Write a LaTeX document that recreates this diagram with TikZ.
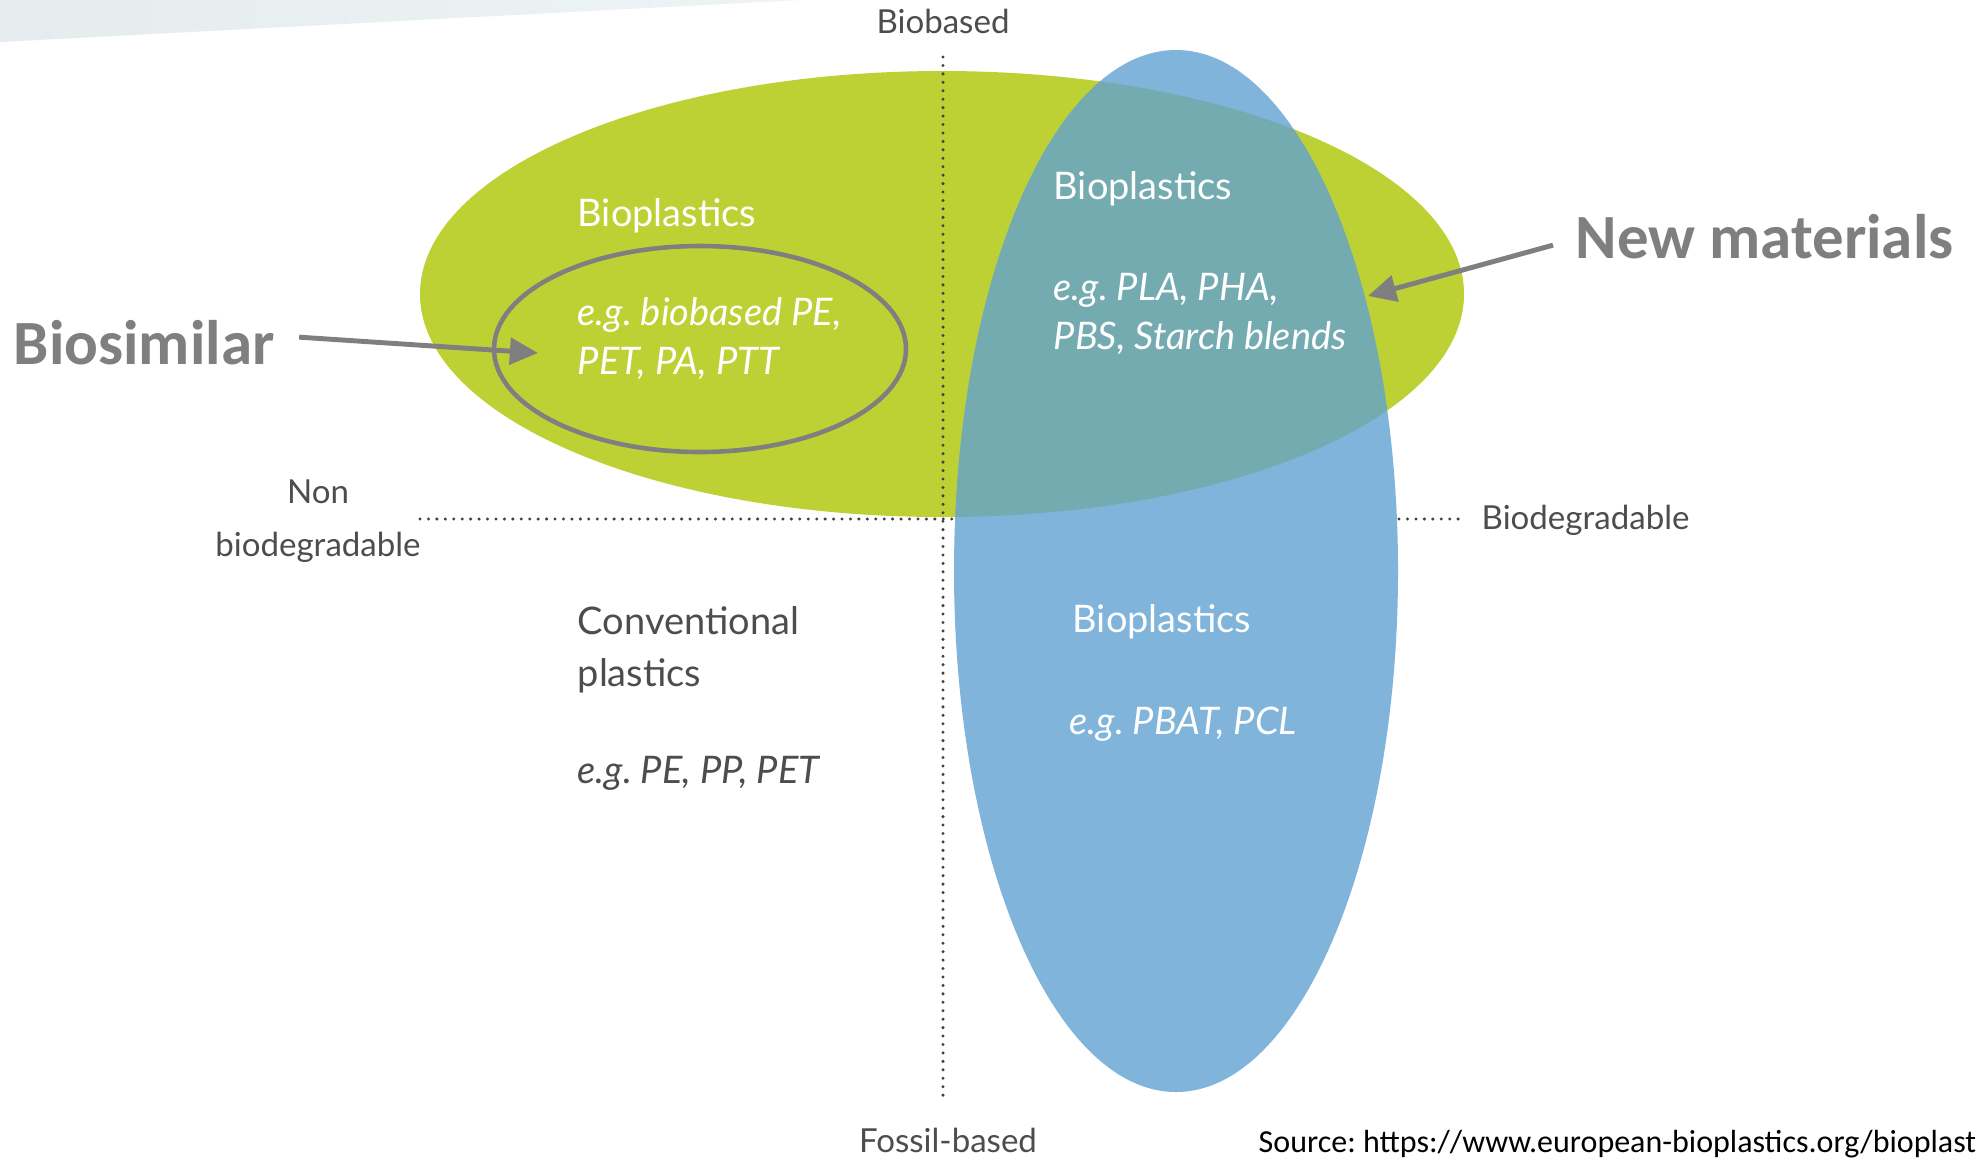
\documentclass[tikz,border=0pt]{standalone}
\usepackage{fontspec}
\setmainfont{Lato}
\newfontfamily\callfont{Carlito}
\usepackage{tikz}
\usetikzlibrary{arrows.meta,positioning}
\definecolor{bioGreen}{HTML}{BED134}
\definecolor{bioBlue}{HTML}{80B4DA}
\definecolor{bioTeal}{HTML}{74ABB0}
\definecolor{axisGray}{HTML}{4D4D4D}
\definecolor{dotGray}{HTML}{404040}
\definecolor{noteGray}{HTML}{7F7F7F}
\definecolor{bandLeft}{HTML}{E4ECEE}
\definecolor{bandMid}{HTML}{D3E2E7}
\definecolor{bandRight}{HTML}{EEF4F5}
\frenchspacing

\begin{document}
\begin{tikzpicture}[x=0.01cm, y=-0.01cm, >={Triangle[length=8pt, width=7.5pt]}]
	\tikzstyle{axislabel}=[inner sep=0pt, text=axisGray, font=\fontsize{9.4}{11}\selectfont]
	\tikzstyle{inside}=[inner sep=0pt, anchor=base west, text=white, font=\fontsize{10.8}{13}\selectfont]
	\tikzstyle{outside}=[inside, text=axisGray]
	\tikzstyle{example}=[inside, font=\fontsize{10.8}{13}\selectfont\itshape]
	\tikzstyle{note}=[inner sep=0pt, anchor=base west, text=noteGray, font=\fontsize{17.9}{20}\selectfont\callfont\bfseries]
	\tikzstyle{dots}=[dotGray, line width=0.95pt, line cap=round, dash pattern=on 0pt off 2.4pt]
	\tikzstyle{callout}=[->, noteGray, line width=1.4pt]
	% canvas
	\fill[white] (0,0) rectangle (1977,1157);
	\useasboundingbox (0,0) rectangle (1977,1157);
	\clip (0,0) rectangle (1977,1157);
	% light band in the corner
	\shade[left color=bandLeft, middle color=bandMid, right color=bandRight]
		(0,0) -- (800,0) -- (0,42) -- cycle;
	% % Shapes
	% biobased ellipse
	\fill[bioGreen] (942,294) ellipse [x radius=522, y radius=223];
	% axes
	\coordinate (axisTop) at (943,57);
	\coordinate (axisBottom) at (943,1097);
	\coordinate (axisLeft) at (420,519);
	\coordinate (axisRight) at (1460,519);
	\draw[dots] (axisTop) -- (axisBottom);
	\draw[dots] (axisLeft) -- (axisRight);
	% biodegradable ellipse
	\fill[bioBlue] (1176,571) ellipse [x radius=222, y radius=521];
	\begin{scope}
		\clip (942,294) ellipse [x radius=522, y radius=223];
		\fill[bioTeal] (1176,571) ellipse [x radius=222, y radius=521];
	\end{scope}
	% biosimilar ring
	\draw[noteGray, line width=1.3pt] (700,349) ellipse [x radius=206, y radius=103];
	% % Nodes
	% axis labels
	\node[axislabel, anchor=base] (biobased) at (943,33) {Biobased};
	\node[axislabel, anchor=base] (fossil) at (948,1152) {Fossil-based};
	\node[axislabel, anchor=base west] (biodeg) at (1481,529) {Biodegradable};
	\node[axislabel, anchor=base] (non) at (318,503) {Non};
	\node[axislabel, below=0.53cm of non.base, anchor=base] (nonbiodeg) {biodegradable};
	% biobased, non biodegradable
	\node[inside] (bioplTL) at (577,226) {Bioplastics};
	\node[example, below=0.99cm of bioplTL.base west, anchor=base west] (egTL) {e.g. biobased PE,};
	\node[example, below=0.49cm of egTL.base west, anchor=base west] (egTLb) {PET, PA, PTT};
	% biobased, biodegradable
	\node[inside] (bioplTR) at (1053,199) {Bioplastics};
	\node[example, below=1.01cm of bioplTR.base west, anchor=base west] (egTR) {e.g. PLA, PHA,};
	\node[example, below=0.49cm of egTR.base west, anchor=base west] (egTRb) {PBS, Starch blends};
	% fossil-based, non biodegradable
	\node[outside] (conv) at (577,634) {Conventional};
	\node[outside, below=0.52cm of conv.base west, anchor=base west] (convb) {plastics};
	\node[example, text=axisGray, below=0.97cm of convb.base west, anchor=base west] (egBL) {e.g. PE, PP, PET};
	% fossil-based, biodegradable
	\node[inside] (bioplBR) at (1072,632) {Bioplastics};
	\node[example, below=1.02cm of bioplBR.base west, anchor=base west, xshift=-0.03cm] (egBR) {e.g. PBAT, PCL};
	% callouts
	\node[note] (biosimilar) at (13,364) {Biosimilar};
	\node[note] (newmat) at (1575,258) {New materials};
	\coordinate (biosimTip) at (538,353);
	\coordinate (newmatTip) at (1368,296);
	% source
	\node[inner sep=0pt, anchor=base west, font=\fontsize{9.1}{11}\selectfont\callfont] (source) at (1258,1152)
	{Source: https://www.european-bioplastics.org/bioplast};
	% % Connectors
	\draw[callout] ([xshift=0.24cm, yshift=0.05cm]biosimilar.east) -- (biosimTip);
	\draw[callout] ([xshift=-0.22cm, yshift=-0.09cm]newmat.west) -- (newmatTip);
\end{tikzpicture}
\end{document}
